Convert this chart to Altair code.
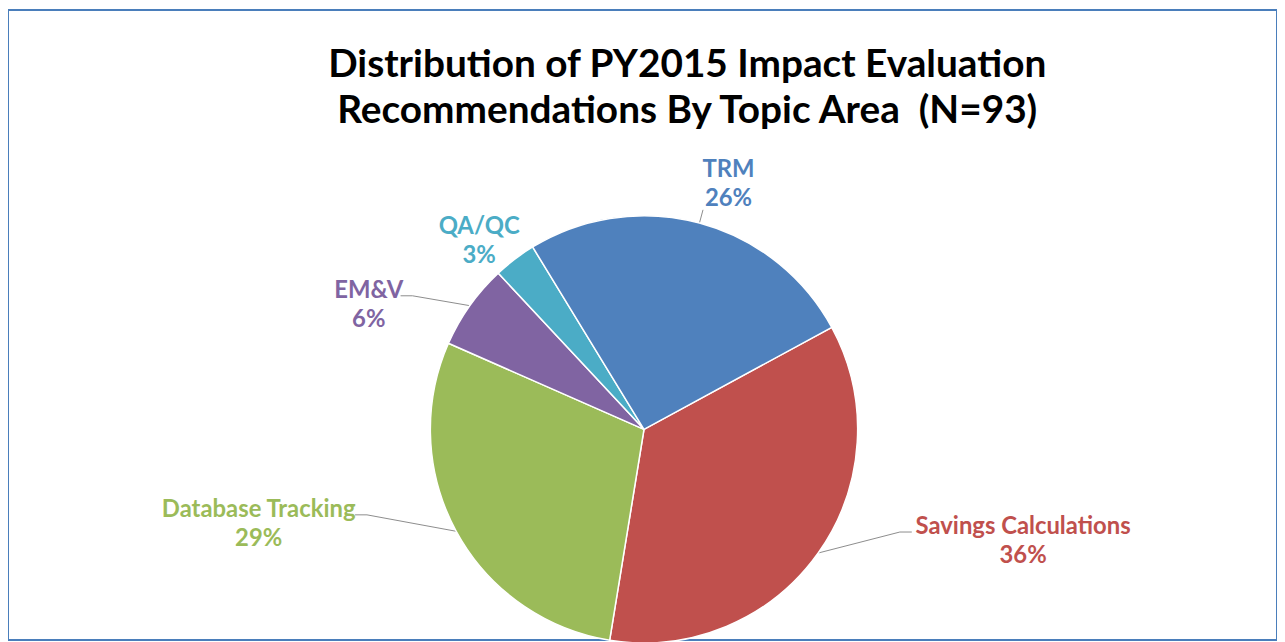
import math
import numpy as np
import pandas as pd
import altair as alt

# ---- data ----
categories = ["Savings Calculations", "Database Tracking", "EM&V", "QA/QC", "TRM"]
counts = [33, 27, 6, 3, 24]          # N = 93
pct_labels = ["36%", "29%", "6%", "3%", "26%"]
colors = ["#C0504D", "#9BBB59", "#8064A2", "#4BACC6", "#4F81BD"]
title_lines = ["Distribution of PY2015 Impact Evaluation",
               "Recommendations By Topic Area \u00a0(N=93)"]

# ---- layout ----
W, H = 1277, 634          # whole view (frame drawn by the view stroke)
CX, CY = 640, 422         # pie centre inside the view
R = 215                   # pie radius in px
START_DEG = 61.5          # first slice starts here (clockwise from 12 o'clock)
FONT = "Lato"
LABEL_SIZE = 24
LINE_H = 29

total = float(sum(counts))
start = math.radians(START_DEG)

pie_df = pd.DataFrame({
    "category": categories,
    "count": counts,
    "idx": list(range(len(categories))),
    "cx": 0.0,
    "cy": 0.0,
})

# label + leader positions derived from slice mid-angles (units of R, y up)
cum = np.cumsum(counts)
lab_rows, line_rows = [], []
for i, (cat, c, p) in enumerate(zip(categories, counts, pct_labels)):
    mid = start + 2 * math.pi * (cum[i] - c / 2.0) / total
    sx, cy = math.sin(mid), math.cos(mid)
    sign = 1.0 if sx >= 0 else -1.0
    if abs(sx) > 0.75:   # side label
        edge = (1.42 if cy > 0 else 1.56) * sx
        half_w = (len(cat) * 5.0 + 8) / R
        xc = edge + sign * half_w
        y1 = (1.12 if cy > 0 else 0.79) * cy      # first-line centre
        end = (edge - sign * 4.0 / R, y1 - 5.0 / R)
        elbow = (end[0] - sign * 12.0 / R, end[1])
        pts = [(sx, cy), elbow, end]
    else:                # label above / below
        xc = 1.35 * sx + 0.045
        y1 = cy * (0.88 + 0.39 * cy)
        yend = y1 - (LINE_H + 11.0) / R
        rend = yend / cy
        pts = [(sx, cy), (sx * rend, yend)]
    lab_rows.append({"category": cat, "label": f"{cat}\n{p}", "x": xc, "y": y1})
    if c / total >= 0.05:
        for k, (px, py) in enumerate(pts):
            line_rows.append({"category": cat, "o": k, "x": px, "y": py})

lab_df = pd.DataFrame(lab_rows)
line_df = pd.DataFrame(line_rows)

xs = alt.Scale(domain=[-CX / R, (W - CX) / R], nice=False, zero=False)
ys = alt.Scale(domain=[-(H - CY) / R, CY / R], nice=False, zero=False)
cs = alt.Scale(domain=categories, range=colors)

pie = alt.Chart(pie_df).mark_arc(outerRadius=R, stroke="white", strokeWidth=1.5).encode(
    theta=alt.Theta("count:Q", stack=True,
                    scale=alt.Scale(range=[start, start + 2 * math.pi])),
    color=alt.Color("category:N", scale=cs, legend=None),
    order=alt.Order("idx:Q"),
    x=alt.X("cx:Q", scale=xs, axis=None),
    y=alt.Y("cy:Q", scale=ys, axis=None),
)

leaders = alt.Chart(line_df).mark_line(color="#8C8C8C", strokeWidth=1).encode(
    x=alt.X("x:Q", scale=xs, axis=None),
    y=alt.Y("y:Q", scale=ys, axis=None),
    detail="category:N",
    order="o:Q",
)

labels = alt.Chart(lab_df).mark_text(
    font=FONT, fontWeight="bold", fontSize=LABEL_SIZE, lineBreak="\n", lineHeight=LINE_H,
    align="center", baseline="middle",
).encode(
    x=alt.X("x:Q", scale=xs, axis=None),
    y=alt.Y("y:Q", scale=ys, axis=None),
    text="label:N",
    color=alt.Color("category:N", scale=cs, legend=None),
)

chart = alt.layer(leaders, pie, labels).properties(
    width=W, height=H,
    autosize=alt.AutoSizeParams(type="none"),
    padding=0,
    title=alt.TitleParams(
        text=title_lines, font=FONT, fontSize=39, fontWeight="bold",
        color="#000000", anchor="middle", dx=45, dy=126, lineHeight=47,
    ),
).configure_view(stroke="#4A7EBB", strokeWidth=2)

chart.save("out.html", embed_options={"renderer": "svg", "actions": False})
